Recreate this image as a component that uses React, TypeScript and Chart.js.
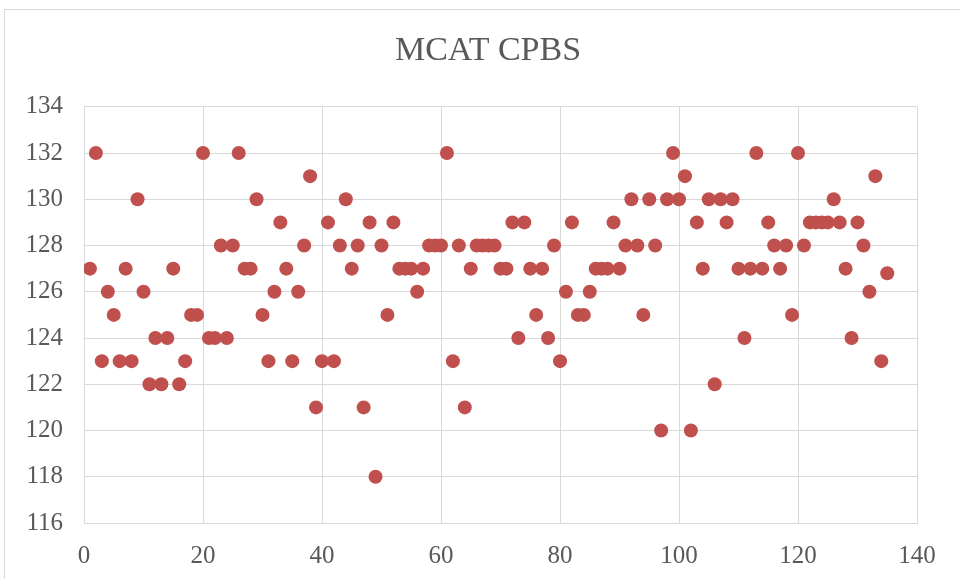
import React, { useEffect, useRef } from "react";
import { Chart, registerables } from "chart.js";

Chart.register(...registerables);

const TITLE = "MCAT CPBS";

// CPBS scores, in order for participants 1..135
const scores: number[] = [
  127, 132, 123, 126, 125, 123, 127, 123, 130, 126,
  122, 124, 122, 124, 127, 122, 123, 125, 125, 132,
  124, 124, 128, 124, 128, 132, 127, 127, 130, 125,
  123, 126, 129, 127, 123, 126, 128, 131, 121, 123,
  129, 123, 128, 130, 127, 128, 121, 129, 118, 128,
  125, 129, 127, 127, 127, 126, 127, 128, 128, 128,
  132, 123, 128, 121, 127, 128, 128, 128, 128, 127,
  127, 129, 124, 129, 127, 125, 127, 124, 128, 123,
  126, 129, 125, 125, 126, 127, 127, 127, 129, 127,
  128, 130, 128, 125, 130, 128, 120, 130, 132, 130,
  131, 120, 129, 127, 130, 122, 130, 129, 130, 127,
  124, 127, 132, 127, 129, 128, 127, 128, 125, 132,
  128, 129, 129, 129, 129, 130, 129, 127, 124, 129,
  128, 126, 131, 123, 126.8,
];

const X_MIN = 0;
const X_MAX = 140;
const X_STEP = 20;
const Y_MIN = 116;
const Y_MAX = 134;
const Y_STEP = 2;

const POINT_COLOR = "#c0504d";
const GRID_COLOR = "#d9d9d9";
const TEXT_COLOR = "#595959";
const FONT = "'Liberation Serif', 'Times New Roman', serif";

export default function App() {
  const canvasRef = useRef<HTMLCanvasElement | null>(null);

  useEffect(() => {
    const canvas = canvasRef.current;
    if (!canvas) return;
    const points = scores.map((y, i) => ({ x: i + 1, y }));
    const chart = new Chart(canvas, {
      type: "scatter",
      data: {
        datasets: [
          {
            label: TITLE,
            data: points,
            xAxisID: "x",
            yAxisID: "y",
            backgroundColor: POINT_COLOR,
            borderColor: POINT_COLOR,
            borderWidth: 0,
            pointRadius: 7,
            pointHoverRadius: 7,
          },
        ],
      },
      options: {
        responsive: false,
        animation: false,
        devicePixelRatio: 1,
        layout: { padding: { left: 16, right: 0, top: 31, bottom: 0 } },
        plugins: {
          legend: { display: false },
          tooltip: { enabled: false },
          title: {
            display: true,
            text: TITLE,
            color: TEXT_COLOR,
            font: { family: FONT, size: 34, weight: "normal", lineHeight: 1.2 },
            padding: { top: 0, bottom: 35 },
          },
        },
        scales: {
          x: {
            type: "linear",
            min: X_MIN,
            max: X_MAX,
            ticks: {
              stepSize: X_STEP,
              color: TEXT_COLOR,
              font: { family: FONT, size: 25 },
              padding: 18,
              maxRotation: 0,
            },
            grid: { color: GRID_COLOR, drawTicks: false, lineWidth: 1 },
            border: { color: GRID_COLOR },
            afterFit: (scale: any) => {
              scale.height = 56;
            },
          },
          y: {
            type: "linear",
            position: "left",
            min: Y_MIN,
            max: Y_MAX,
            ticks: {
              stepSize: Y_STEP,
              color: TEXT_COLOR,
              font: { family: FONT, size: 25 },
              padding: 21,
            },
            grid: { color: GRID_COLOR, drawTicks: false, lineWidth: 1 },
            border: { color: GRID_COLOR },
            afterFit: (scale: any) => {
              scale.width = 68;
            },
          },
          yRight: {
            type: "linear",
            position: "right",
            min: 0,
            max: 1,
            ticks: { display: false },
            grid: { display: false, drawTicks: false },
            border: { display: false },
            afterFit: (scale: any) => {
              scale.width = 43;
            },
          },
        },
      },
    });
    return () => chart.destroy();
  }, []);

  return (
    <div
      style={{
        position: "fixed",
        left: 0,
        top: 0,
        width: 960,
        height: 579,
        background: "#ffffff",
        overflow: "hidden",
      }}
    >
      <div
        style={{
          position: "absolute",
          left: 4,
          top: 9,
          width: 1000,
          height: 620,
          border: "1px solid #d9d9d9",
          boxSizing: "border-box",
        }}
      />
      <canvas
        ref={canvasRef}
        width={960}
        height={579}
        style={{ position: "absolute", left: 0, top: 0, width: 960, height: 579 }}
      />
    </div>
  );
}
